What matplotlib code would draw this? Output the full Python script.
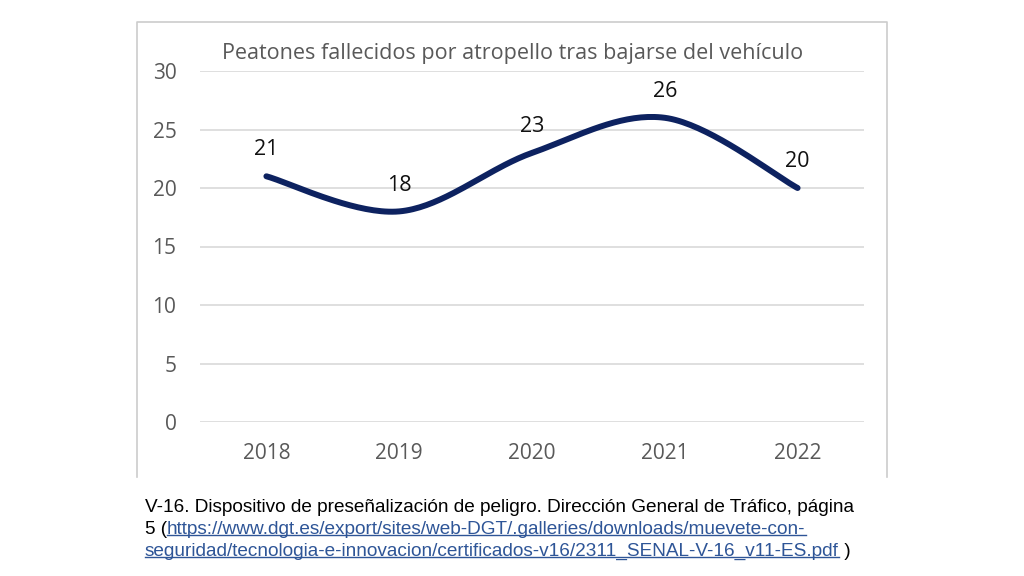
import numpy as np
import matplotlib
matplotlib.use('Agg')
import matplotlib.pyplot as plt
from matplotlib.lines import Line2D

# datos del gráfico
years = ['2018', '2019', '2020', '2021', '2022']
deaths = [21, 18, 23, 26, 20]
title = 'Peatones fallecidos por atropello tras bajarse del vehículo'
y_ticks = [0, 5, 10, 15, 20, 25, 30]
note_line1 = 'V-16. Dispositivo de preseñalización de peligro. Dirección General de Tráfico, página'
link_part1 = 'https://www.dgt.es/export/sites/web-DGT/.galleries/downloads/muevete-con-'
link_part2 = 'seguridad/tecnologia-e-innovacion/certificados-v16/2311_SENAL-V-16_v11-ES.pdf'

W, H = 1024, 576
fig = plt.figure(figsize=(W / 100, H / 100), dpi=100)
fig.patch.set_facecolor('white')

# marco del gráfico (sin borde inferior, está recortado)
box_col = '#CCCCCC'
fig.add_artist(Line2D([137 / W, 137 / W, 887 / W, 887 / W],
                      [1 - 477 / H, 1 - 22 / H, 1 - 22 / H, 1 - 477 / H],
                      color=box_col, lw=1.2, transform=fig.transFigure))

ax = fig.add_axes([200 / W, 1 - 422 / H, 664 / W, 351 / H])
x = np.arange(len(years))
ax.set_xlim(-0.5, len(years) - 0.5)
ax.set_ylim(0, 30)

# línea suavizada (estilo Excel, Bezier tipo Catmull-Rom)
def smooth(xs, ys, n=40):
    pts = np.column_stack([xs, ys]).astype(float)
    out = []
    for i in range(len(pts) - 1):
        p0 = pts[i - 1] if i > 0 else pts[i]
        p1 = pts[i]
        p2 = pts[i + 1]
        p3 = pts[i + 2] if i + 2 < len(pts) else pts[i + 1]
        c1 = p1 + (p2 - p0) / 6
        c2 = p2 - (p3 - p1) / 6
        t = np.linspace(0, 1, n)[:, None]
        seg = ((1 - t) ** 3) * p1 + 3 * ((1 - t) ** 2) * t * c1 + 3 * (1 - t) * t ** 2 * c2 + t ** 3 * p2
        out.append(seg if i == 0 else seg[1:])
    s = np.vstack(out)
    return s[:, 0], s[:, 1]

# escalar x para que la curva se suavice en espacio de píxeles
sx, sy = smooth(x * (133 / 11.7), deaths)
ax.plot(sx / (133 / 11.7), sy, color='#0D2260', lw=4.3, solid_capstyle='round',
        clip_on=False, zorder=3)

for xi, v in zip(x, deaths):
    ax.annotate(str(v), (xi, v), xytext=(0, 19), textcoords='offset points',
                ha='center', va='center', fontsize=15.5, color='#111111',
                family='Open Sans')

ax.set_yticks(y_ticks)
ax.set_xticks(x)
ax.set_xticklabels(years)
ax.grid(axis='y', color='#D9D9D9', lw=1.2)
ax.set_axisbelow(True)
for sp in ax.spines.values():
    sp.set_visible(False)
ax.tick_params(length=0, labelsize=15, labelcolor='#595959')
ax.tick_params(axis='y', pad=17)
ax.tick_params(axis='x', pad=15)
for lab in ax.get_xticklabels() + ax.get_yticklabels():
    lab.set_family('Open Sans')

fig.text(513 / W, 1 - 53 / H, title, ha='center', va='center', fontsize=15.5,
         color='#595959', family='Open Sans')

# nota al pie con enlace subrayado
fs = 13.7
link_col = '#2E5597'
fig.text(145 / W, 1 - 507 / H, note_line1, ha='left', va='center', fontsize=fs,
         color='black', family='Liberation Sans')
t5 = fig.text(145 / W, 1 - 529 / H, '5 (', ha='left', va='center', fontsize=fs,
              color='black', family='Liberation Sans')
fig.canvas.draw()
r = fig.canvas.get_renderer()
bb = t5.get_window_extent(r)
l1 = fig.text(bb.x1 / W, 1 - 529 / H, link_part1, ha='left', va='center', fontsize=fs,
              color=link_col, family='Liberation Sans')
l2 = fig.text(145 / W, 1 - 551 / H, link_part2, ha='left', va='center', fontsize=fs,
              color=link_col, family='Liberation Sans')
fig.canvas.draw()
bb2 = l2.get_window_extent(r)
fig.text(bb2.x1 / W, 1 - 551 / H, ' )', ha='left', va='center', fontsize=fs,
         color='black', family='Liberation Sans')
for t in (l1, l2):
    b = t.get_window_extent(r)
    yline = (b.y0 + 3) / H
    fig.add_artist(Line2D([b.x0 / W, b.x1 / W], [yline, yline], color=link_col,
                          lw=1.0, transform=fig.transFigure))

fig.savefig('out.png', dpi=100, facecolor='white')
